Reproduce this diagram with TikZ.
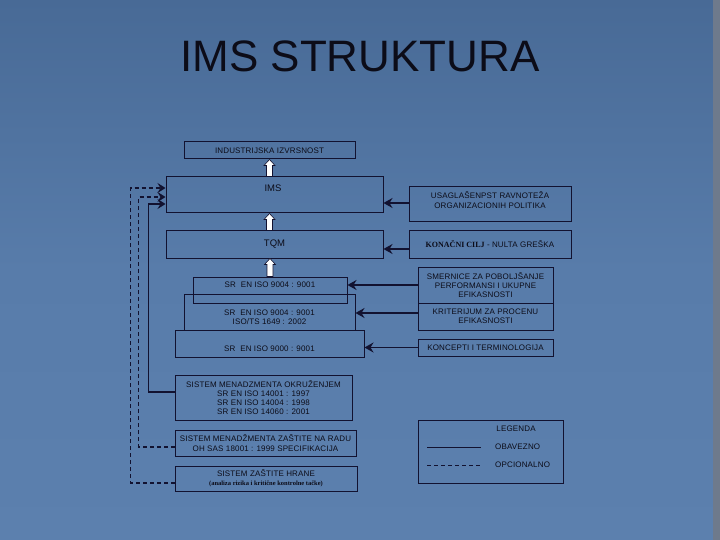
\documentclass[tikz,border=0pt]{standalone}
\usepackage{fontspec}
\setmainfont{Liberation Sans}
\newfontfamily\boxfont[LetterSpace=2]{Liberation Sans}
\newfontfamily\serifb{Liberation Serif}
\usetikzlibrary{arrows.meta,calc}
\definecolor{bgA}{RGB}{72,106,150}
\definecolor{bgM}{RGB}{88,124,170}
\definecolor{bgB}{RGB}{92,128,174}
\definecolor{edgec}{RGB}{110,122,140}
\definecolor{linec}{RGB}{18,18,48}
\definecolor{txtc}{RGB}{12,12,24}
\begin{document}
\begin{tikzpicture}[x=1pt,y=-1pt,
  box/.style={draw=linec, line width=1pt, inner sep=1pt, align=center, text=txtc,
    font=\boxfont\fontsize{8}{9.3}\selectfont},
  txt/.style={inner sep=0pt, align=center, text=txtc, font=\boxfont\fontsize{8}{9.3}\selectfont},
  bigtxt/.style={inner sep=0pt, text=txtc, font=\fontsize{9.5}{11}\selectfont},
  titlestyle/.style={inner sep=0pt, text=txtc, font=\fontsize{44}{48}\selectfont},
  conn/.style={draw=linec, line width=1.9pt, -{Stealth[length=9pt,width=10pt,inset=3pt]}},
  fb/.style={draw=linec, line width=1.5pt, -{Stealth[length=8pt,width=10pt,inset=3pt]}},
  fbdash/.style={fb, dash pattern=on 4pt off 3pt},
  legline/.style={draw=linec, line width=0.8pt},
  barrow/.style={draw=linec, fill=white, line width=0.6pt,
    to path={let \p1=(\tikztostart), \p2=(\tikztotarget) in
      (\x1-3pt,\y1) -- (\x1-3pt,\y2-6pt) -- (\x1-5.5pt,\y2-6pt) -- (\x1,\y2)
      -- (\x1+5.5pt,\y2-6pt) -- (\x1+3pt,\y2-6pt) -- (\x1+3pt,\y1) -- cycle}}
]
\useasboundingbox (0,0) rectangle (720,540);
\shade[top color=bgA, bottom color=bgB, middle color=bgM] (0,0) rectangle (720,540);
\fill[edgec] (713,0) rectangle (720,540);

\node[titlestyle] (title) at (360,56) {IMS STRUKTURA};

% left column
\node[box, minimum width=171pt, minimum height=17pt] (indus) at (269.5,150.5) {INDUSTRIJSKA IZVRSNOST};
\node[box, minimum width=217pt, minimum height=36pt] (ims) at (274.5,195) {};
\node[bigtxt] (imst) at (273,188) {IMS};
\node[box, minimum width=217pt, minimum height=27pt, font=\fontsize{9.5}{11}\selectfont] (tqm) at (274.5,244.5) {TQM};
\node[box, minimum width=154pt, minimum height=26pt] (isoa) at (270,290) {};
\node[txt] (isoat) at (270,285) {SR\ \ EN ISO 9004 : 9001};
\node[box, minimum width=171pt, minimum height=36pt] (isob) at (269.5,312) {};
\node[txt] (isobt) at (269.5,317.5) {SR\ \ EN ISO 9004 : 9001\\ISO/TS 1649 : 2002};
\node[box, minimum width=189pt, minimum height=27pt] (isoc) at (269.5,343.5) {};
\node[txt] (isoct) at (269.5,349) {SR\ \ EN ISO 9000 : 9001};

% right column
\node[box, minimum width=162pt, minimum height=35pt] (usag) at (490,204.5) {};
\node[txt] (usagt) at (490,200) {USAGLAŠENPST RAVNOTEŽA\\ORGANIZACIONIH POLITIKA};
\node[box, minimum width=162pt, minimum height=27pt] (kon) at (490,244.5) {{\serifb\bfseries KONAČNI CILJ} - NULTA GREŠKA};
\node[box, minimum width=135pt, minimum height=36pt] (smer) at (485.5,285) {SMERNICE ZA POBOLJŠANJE\\PERFORMANSI I UKUPNE\\EFIKASNOSTI};
\node[box, minimum width=135pt, minimum height=27pt] (krit) at (485.5,316.5) {KRITERIJUM ZA PROCENU\\EFIKASNOSTI};
\node[box, minimum width=135pt, minimum height=17pt] (konc) at (485.5,347.5) {KONCEPTI I TERMINOLOGIJA};

% bottom systems
\node[box, minimum width=177pt, minimum height=45pt] (env) at (263.5,397.5) {SISTEM MENADZMENTA OKRUŽENJEM\\SR EN ISO 14001 : 1997\\SR EN ISO 14004 : 1998\\SR EN ISO 14060 : 2001};
\node[box, minimum width=181pt, minimum height=26pt] (ohs) at (265.5,443) {SISTEM MENADŽMENTA ZAŠTITE NA RADU\\OH SAS 18001 : 1999 SPECIFIKACIJA};
\node[box, minimum width=182pt, minimum height=25pt] (food) at (266,478.5) {SISTEM ZAŠTITE HRANE\\{\serifb\bfseries\fontsize{6.5}{7.5}\selectfont (analiza rizika i kritične kontrolne tačke)}};

% legend
\node[box, minimum width=145pt, minimum height=63pt] (leg) at (490.5,451.5) {};
\node[txt] (legt) at (516,429) {LEGENDA};
\coordinate (l1a) at (427,447); \coordinate (l1b) at (481,447);
\coordinate (l2a) at (427,465); \coordinate (l2b) at (481,465);
\draw[legline] (l1a) -- (l1b);
\draw[legline, dash pattern=on 4pt off 3pt] (l2a) -- (l2b);
\node[txt, anchor=west] (obv) at (495,447) {OBAVEZNO};
\node[txt, anchor=west] (opc) at (495,465) {OPCIONALNO};

% white block arrows
\draw[barrow] (indus.south |- ims.north) to (indus.south);
\draw[barrow] (indus.south |- tqm.north) to (indus.south |- ims.south);
\draw[barrow] (isoa.north) to (isoa.north |- tqm.south);

% arrows from right boxes
\coordinate (usagw) at ([yshift=1.5pt]usag.west);
\coordinate (konw) at ([yshift=-4.5pt]kon.west);
\coordinate (kritw) at ([yshift=3.5pt]krit.west);
\draw[conn] (usagw) -- (usagw -| ims.east);
\draw[conn] (konw) -- (konw -| tqm.east);
\draw[conn] (smer.west) -- (smer.west -| isoa.east);
\draw[conn] (kritw) -- (kritw -| isob.east);
\draw[conn] (konc.west) -- (konc.west -| isoc.east);

% feedback lines
\draw[fb] ([yshift=5.5pt]env.west) -- ++(-26,0) |- ([yshift=-9pt]ims.west);
\draw[fbdash] ([yshift=-4pt]ohs.west) -- ++(-36,0) |- ([yshift=-2pt]ims.west);
\draw[fbdash] ([yshift=-4.5pt]food.west) -- ++(-44,0) |- ([yshift=7pt]ims.west);
\end{tikzpicture}
\end{document}
